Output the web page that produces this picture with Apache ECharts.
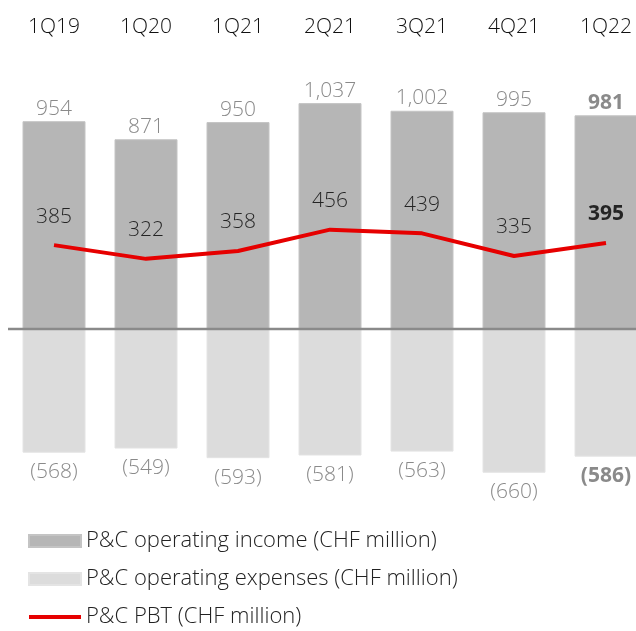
<!DOCTYPE html>
<html>
<head>
<meta charset="utf-8">
<script src="https://cdn.jsdelivr.net/npm/echarts@6/dist/echarts.min.js"></script>
<style>
html,body{margin:0;padding:0;background:#fff;}
#c{width:636px;height:631px;}
</style>
</head>
<body>
<div id="c"></div>
<script>
var categories = ['1Q19', '1Q20', '1Q21', '2Q21', '3Q21', '4Q21', '1Q22'];
var operatingIncome = [954, 871, 950, 1037, 1002, 995, 981];
var operatingExpenses = [-568, -549, -593, -581, -563, -660, -586];
var pbt = [385, 322, 358, 456, 439, 335, 395];
var boldIndex = 6;

var FONT = '"Open Sans", "Noto Sans", sans-serif';
var LIGHT = 300;

function fmt(v) {
  var a = Math.abs(v).toString().replace(/\B(?=(\d{3})+(?!\d))/g, ',');
  return v < 0 ? '(' + a + ')' : a;
}
function withBold(arr) {
  return arr.map(function (v, i) {
    return i === boldIndex ? { value: v, label: { fontWeight: 'bold' } } : v;
  });
}

var chart = echarts.init(document.getElementById('c'), null, { renderer: 'canvas' });
chart.setOption({
  animation: false,
  textStyle: { fontFamily: FONT },
  grid: { left: 8, width: 644, top: 89.4, height: 457.4, containLabel: false, outerBoundsMode: 'none' },
  legend: {
    orient: 'vertical',
    left: 28,
    top: 529,
    height: 200,
    padding: 0,
    itemWidth: 52,
    itemHeight: 12,
    itemGap: 14,
    textStyle: { fontFamily: FONT, fontSize: 22, fontWeight: LIGHT, color: '#222', lineHeight: 24 },
    data: [
      { name: 'P&C operating income (CHF million)', icon: 'rect' },
      { name: 'P&C operating expenses (CHF million)', icon: 'rect' },
      { name: 'P&C PBT (CHF million)', icon: 'path://M0,0H52V0.01H0Z M0,4H52V8H0Z M0,11.99H52V12H0Z' }
    ]
  },
  xAxis: {
    type: 'category',
    data: categories,
    position: 'top',
    axisLine: { show: false, onZero: false },
    axisTick: { show: false },
    axisLabel: { margin: 52, fontFamily: FONT, fontSize: 21, fontWeight: LIGHT, color: '#111' }
  },
  yAxis: {
    type: 'value',
    min: -1000,
    max: 1100,
    show: false,
    splitLine: { show: false }
  },
  series: [
    {
      name: 'P&C operating income (CHF million)',
      type: 'bar',
      data: withBold(operatingIncome),
      barWidth: 63,
      barGap: '-100%',
      itemStyle: { color: '#b6b6b6', borderColor: '#c4c4c4', borderWidth: 1 },
      label: {
        show: true, position: 'top', distance: 2,
        fontFamily: FONT, fontSize: 21, fontWeight: LIGHT, color: '#8a8a8a',
        formatter: function (p) { return fmt(p.value); }
      },
      markLine: {
        silent: true,
        symbol: 'none',
        label: { show: false },
        lineStyle: { color: '#8a8a8a', width: 2.3, type: 'solid' },
        data: [{ yAxis: 0 }],
        z: 4
      }
    },
    {
      name: 'P&C operating expenses (CHF million)',
      type: 'bar',
      data: withBold(operatingExpenses),
      barWidth: 63,
      barGap: '-100%',
      itemStyle: { color: '#dcdcdc', borderColor: '#e4e4e4', borderWidth: 1 },
      label: {
        show: true, position: 'bottom', distance: 9,
        fontFamily: FONT, fontSize: 21, fontWeight: LIGHT, color: '#8a8a8a',
        formatter: function (p) { return fmt(p.value); }
      }
    },
    {
      name: 'P&C PBT (CHF million)',
      type: 'line',
      data: pbt,
      symbol: 'none',
      showSymbol: false,
      lineStyle: { color: '#e60000', width: 4 },
      itemStyle: { color: '#e60000' },
      z: 5
    },
    {
      name: 'pbtLabels',
      type: 'scatter',
      data: withBold(pbt),
      symbolSize: 0.1,
      itemStyle: { color: 'rgba(0,0,0,0)' },
      silent: true,
      z: 6,
      label: {
        show: true, position: 'top', distance: 18,
        fontFamily: FONT, fontSize: 21, fontWeight: LIGHT, color: '#000',
        formatter: function (p) { return fmt(p.value); }
      }
    }
  ]
});
</script>
</body>
</html>
